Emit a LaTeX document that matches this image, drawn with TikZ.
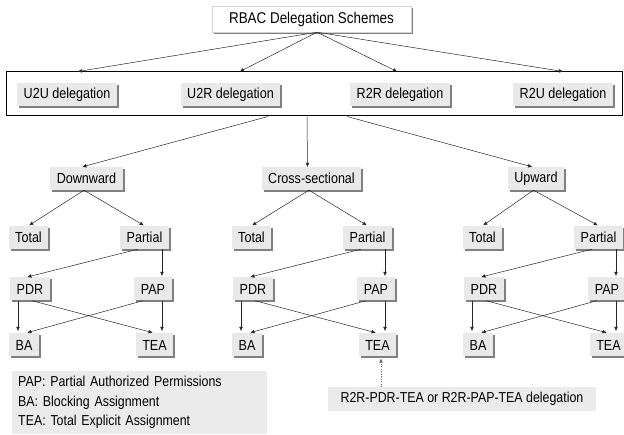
\documentclass[tikz,border=0pt]{standalone}
\usepackage{fontspec}
\setmainfont{Liberation Sans}[FakeStretch=0.86]
\usetikzlibrary{arrows.meta,calc,shadows}

\begin{document}
\begin{tikzpicture}[x=1pt,y=-1pt,
    caixa/.style={fill=gray!17, inner xsep=6.5pt, inner ysep=0pt, minimum height=23pt,
        font=\fontsize{14.6}{16}\selectfont,
        copy shadow={shadow xshift=2pt, shadow yshift=-2pt, fill=black!50, draw=none}},
    titulo/.style={caixa, fill=white, draw=gray!35, line width=0.4pt, minimum width=199pt,
        minimum height=26pt, font=\fontsize{15.6}{17}\selectfont},
    grupo/.style={draw=black, line width=1pt, minimum width=616pt, minimum height=44pt, inner sep=0pt},
    nota/.style={fill=gray!16, inner sep=0pt, font=\fontsize{14.4}{19.5}\selectfont},
    seta/.style={draw=black!85, line width=0.5pt, -{Triangle[length=4pt,width=3.4pt]}},
    setaPont/.style={seta, draw=black!60, dotted}
]
    \def\yGrupo{94.5}
    \def\yDir{178.5}
    \def\yTipo{237.5}
    \def\yParte{289}
    \def\yAtrib{345}

    \path[use as bounding box, clip] (0,0) rectangle (624,435);

    %topo
    \node[titulo] (rbac) at (311.5,19) {RBAC Delegation Schemes};
    \node[grupo] (grp) at (314,94) {};
    \foreach \n/\x/\txt in {u2u/67/U2U, u2r/230.5/U2R, r2r/400/R2R, r2u/563/R2U} {
        \node[caixa] (\n) at (\x,\yGrupo) {\txt{} delegation};
    }
    \foreach \n/\dx in {u2u/11, u2r/9.5, r2r/-3, r2u/0} {
        \draw[seta] ($(rbac.south)+(5.5,0)$) -- ($(grp.north -| \n)+(\dx,0)$);
    }

    %colunas
    \foreach \c/\ox/\px/\txt/\sx in {
        d/0/86.5/Downward/-46, c/223/311.5/Cross-sectional/-7, u/454/536/Upward/33
    } {
        \node[caixa] (\c-top) at (\px,\yDir) {\txt};
        \node[caixa] (\c-total) at (\ox+28.5,\yTipo) {Total};
        \node[caixa] (\c-part) at (\ox+144.5,\yTipo) {Partial};
        \node[caixa] (\c-pdr) at (\ox+30,\yParte) {PDR};
        \node[caixa] (\c-pap) at (\ox+153,\yParte) {PAP};
        \node[caixa] (\c-ba) at (\ox+24,\yAtrib) {BA};
        \node[caixa] (\c-tea) at (\ox+154.5,\yAtrib) {TEA};

        \draw[seta] ($(grp.south)+(\sx,0)$) -- ([xshift=-4pt]\c-top.north);
        \draw[seta, shorten >=1pt] ([xshift=-2.5pt]\c-top.south) -- (\c-total.north);
        \draw[seta, shorten >=1pt] ([xshift=-2.5pt]\c-top.south) -- (\c-part.north);
        \draw[seta, shorten >=1.5pt] ([xshift=-6.5pt]\c-part.south) -- ([xshift=-4pt]\c-pdr.north);
        \draw[seta, shorten >=1.5pt] ([xshift=17.5pt]\c-part.south) -- ([xshift=9pt]\c-pap.north);
        \draw[seta, shorten >=2.5pt] ([xshift=-12pt]\c-pdr.south) -- ([xshift=-6pt]\c-ba.north);
        \draw[seta, shorten >=2.5pt] ([xshift=2pt]\c-pdr.south) -- ([xshift=0.5pt]\c-tea.north);
        \draw[seta, shorten >=2.5pt] ([xshift=-10pt]\c-pap.south) -- ([xshift=1pt]\c-ba.north);
        \draw[seta, shorten >=2.5pt] ([xshift=9pt]\c-pap.south) -- ([xshift=7.5pt]\c-tea.north);
    }

    %legenda
    \node[nota, anchor=north west, text width=243pt, inner xsep=6pt, inner ysep=4pt,
        minimum height=63pt, align=left] (leg) at (12,371)
        {PAP: Partial Authorized Permissions\\BA: Blocking Assignment\\TEA: Total Explicit Assignment};
    \node[nota, minimum width=268pt, minimum height=24pt] (lbl) at (462,399)
        {R2R-PDR-TEA or R2R-PAP-TEA delegation};
    \draw[setaPont, shorten >=2pt] ($(lbl.north -| c-tea)+(3.5,0)$) -- ($(c-tea.south)+(3.5,0)$);
\end{tikzpicture}
\end{document}
